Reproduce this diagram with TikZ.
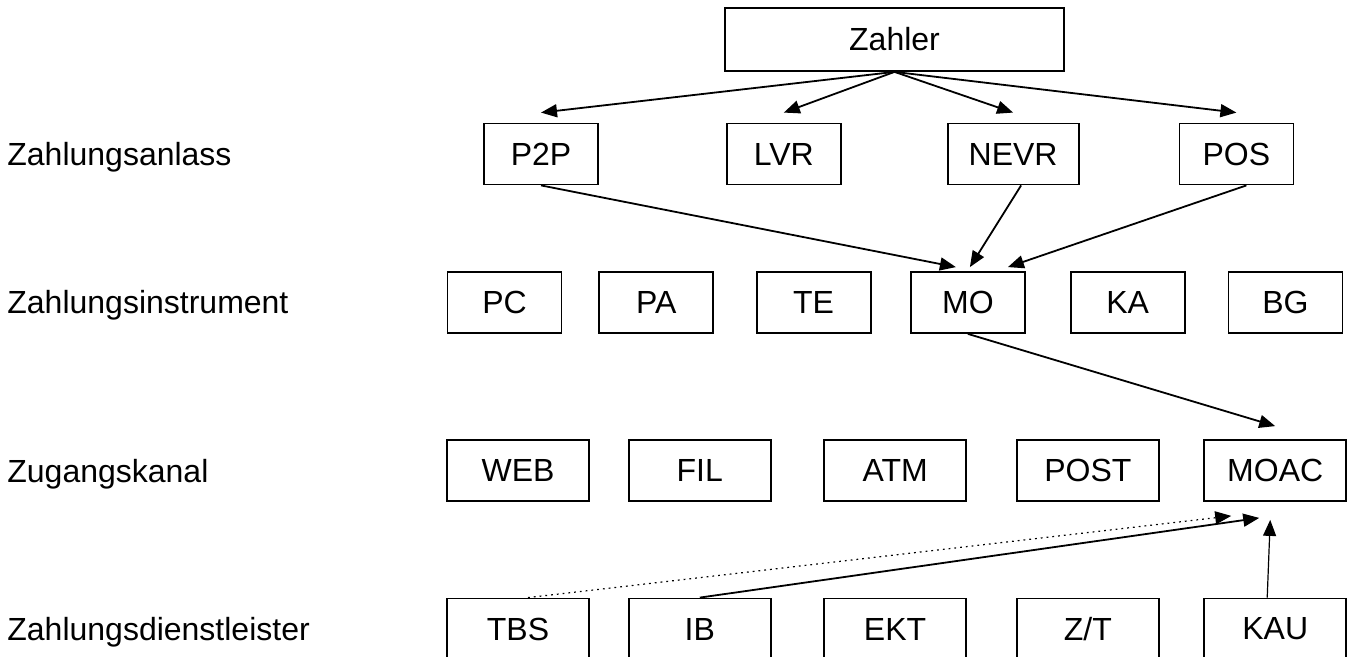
\documentclass[tikz,border=0pt]{standalone}
\usepackage{fontspec}
\setmainfont{Liberation Sans}
\usepackage{tikz}
\usetikzlibrary{arrows.meta, positioning}

\begin{document}
\begin{tikzpicture}[
    x=0.5pt, y=-0.5pt,
    box/.style={draw, line width=0.9pt, minimum height=30.5pt, inner sep=0pt, font=\fontsize{16}{19}\selectfont},
    anlass/.style={box, minimum width=57pt},
    instr/.style={box, minimum width=57pt},
    kanal/.style={box, minimum width=71pt},
    level/.style={anchor=base west, inner sep=0pt, font=\fontsize{16}{19}\selectfont},
    flow/.style={-{Triangle[length=8pt, width=6.5pt]}, line width=0.9pt}
]
    \useasboundingbox (0,0) rectangle (1347,657);

    % Ebenen
    \node[level] (lanlass) at (7,165.5) {Zahlungsanlass};
    \node[level] (linstr) at (7,314) {Zahlungsinstrument};
    \node[level] (lkanal) at (7,482) {Zugangskanal};
    \node[level] (ldienst) at (7,640) {Zahlungsdienstleister};

    % Zahler
    \node[box, minimum width=169.5pt, minimum height=31.5pt] (zahler) at (894.5,39.5) {Zahler};

    % Zahlungsanlass
    \node[anlass] (p2p) at (541,154) {P2P};
    \node[anlass, right=63.5pt of p2p] (lvr) {LVR};
    \node[anlass, minimum width=65.5pt, right=52.5pt of lvr] (nevr) {NEVR};
    \node[anlass, right=49.5pt of nevr] (pos) {POS};

    % Zahlungsinstrument
    \node[instr] (pc) at (504.5,302.5) {PC};
    \node[instr, right=18pt of pc] (pa) {PA};
    \node[instr, right=20.75pt of pa] (te) {TE};
    \node[instr, right=19.25pt of te] (mo) {MO};
    \node[instr, right=22pt of mo] (ka) {KA};
    \node[instr, right=21pt of ka] (bg) {BG};

    % Zugangskanal
    \node[kanal] (web) at (518,470.5) {WEB};
    \node[kanal, right=19pt of web] (fil) {FIL};
    \node[kanal, right=25.75pt of fil] (atm) {ATM};
    \node[kanal, right=24.5pt of atm] (post) {POST};
    \node[kanal, right=21.75pt of post] (moac) {MOAC};

    % Zahlungsdienstleister
    \node[kanal] (tbs) at (518,629) {TBS};
    \node[kanal, right=19pt of tbs] (ib) {IB};
    \node[kanal, right=25.75pt of ib] (ekt) {EKT};
    \node[kanal, right=24.5pt of ekt] (zt) {Z/T};
    \node[kanal, right=21.75pt of zt] (kau) {KAU};

    % Zahler zu Anlass
    \foreach \n in {p2p, lvr, nevr, pos}
        \draw[flow] (zahler.south) -- ([yshift=5pt]\n.north);

    % Anlass zu Instrument
    \draw[flow] (p2p.south) -- ([xshift=-6pt, yshift=2pt]mo.north);
    \draw[flow] ([xshift=4pt]nevr.south) -- ([xshift=1pt, yshift=2pt]mo.north);
    \draw[flow] ([xshift=5pt]pos.south) -- ([xshift=20pt, yshift=2pt]mo.north);

    % Instrument zu Kanal
    \draw[flow] (mo.south) -- ([yshift=6.5pt]moac.north);

    % Dienstleister zu Kanal
    \draw[flow, dotted, line width=0.6pt] ([xshift=5pt]tbs.north) -- ([xshift=-22pt, yshift=-7pt]moac.south);
    \draw[flow] (ib.north) -- ([xshift=-8pt, yshift=-8pt]moac.south);
    \draw[flow, line width=0.6pt] ([xshift=-4pt]kau.north) -- ([xshift=-2.5pt, yshift=-9pt]moac.south);
\end{tikzpicture}
\end{document}
